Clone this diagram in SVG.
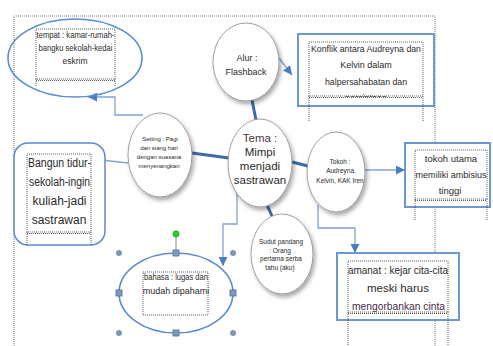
<svg xmlns="http://www.w3.org/2000/svg" width="493" height="346" viewBox="0 0 493 346">
<style>
  .dot{fill:none;stroke:#333;stroke-width:0.8;stroke-dasharray:1,1}
  .pg{fill:none;stroke:#555;stroke-width:0.8;stroke-dasharray:1,1}
  .box{fill:#fff;stroke:#6f97cf;stroke-width:2}
  .oval{fill:none;stroke:#5b8bd0;stroke-width:1.6}
  .circ{fill:#fff;stroke:#8a8a8a;stroke-width:0.8;filter:url(#sh)}
  .thin{fill:none;stroke:#7ea3d6;stroke-width:1.3}
  .thick{fill:none;stroke:#3d6aa8;stroke-width:3}
  text{font-family:"Liberation Sans",Arial,sans-serif;fill:#2a2a2a;text-anchor:middle}
  .hs{fill:#7f9bc0;stroke:#4f6d96;stroke-width:0.8}
  .hr{fill:#7f96b5}
</style>
<defs>
  <filter id="sh" x="-20%" y="-20%" width="150%" height="150%">
    <feDropShadow dx="2" dy="3" stdDeviation="2" flood-color="#000" flood-opacity="0.35"/>
  </filter>
  <marker id="ah" viewBox="0 0 10 10" refX="10" refY="5" markerWidth="9" markerHeight="9" markerUnits="userSpaceOnUse" orient="auto">
    <path d="M0,0 L10,5 L0,10 z" fill="#4a7cc0"/>
  </marker>
  <clipPath id="kc"><rect x="300" y="36" width="132" height="61"/></clipPath>
</defs>
<rect width="493" height="346" fill="#fff"/>

<!-- page border -->
<path class="pg" d="M14,346 V16 H435 V346"/>

<g id="connectors">
  <path class="thin" d="M143,115 H115 V97 H88" marker-end="url(#ah)"/>
  <path class="thin" d="M128,163 L92,159" marker-end="url(#ah)"/>
  <path class="thin" d="M279,58 L292,75" marker-end="url(#ah)"/>
  <path class="thin" d="M365,170 H405" marker-end="url(#ah)"/>
  <path class="thin" d="M318,205 V228 H355 V253" marker-end="url(#ah)"/>
  <path class="thin" d="M237,185 V224 H223 V266" marker-end="url(#ah)"/>
  <path class="thick" d="M192,153 L229,158"/>
  <path class="thick" d="M252,100 L256,120"/>
  <path class="thick" d="M292,162 L308,166"/>
  <path class="thick" d="M267,205 L272,216"/>
</g>

<g id="tempat">
  <ellipse class="oval" cx="75" cy="58" rx="67" ry="39"/>
  <rect class="dot" x="36" y="29" width="79" height="50"/>
  <path class="dot" d="M36,80.5 H115 M36,79 V86 M115,79 V86"/>
  <text font-size="8.5"><tspan x="75.5" y="38" textLength="78" lengthAdjust="spacingAndGlyphs">tempat : kamar-rumah-</tspan><tspan x="75.5" y="51" textLength="74" lengthAdjust="spacingAndGlyphs">bangku sekolah-kedai</tspan><tspan x="75" y="64">eskrim</tspan></text>
</g>

<g id="alur">
  <ellipse class="circ" cx="246" cy="62" rx="33" ry="39"/>
  <text font-size="9"><tspan x="247" y="61">Alur :</tspan><tspan x="246" y="75">Flashback</tspan></text>
</g>

<g id="konflik">
  <rect class="box" x="298" y="34" width="136" height="72"/>
  <rect class="dot" x="309" y="42" width="114" height="54"/>
  <path class="dot" d="M309,97.5 H423 M309,96 V122 M423,96 V122"/>
  <g clip-path="url(#kc)">
    <text font-size="9"><tspan x="366" y="52" textLength="110" lengthAdjust="spacingAndGlyphs">Konflik antara Audreyna dan</tspan><tspan x="366" y="68">Kelvin dalam</tspan><tspan x="366" y="85" textLength="82" lengthAdjust="spacingAndGlyphs">halpersahabatan dan</tspan><tspan x="366" y="100.5">percintaan</tspan></text>
  </g>
</g>

<g id="setting">
  <ellipse class="circ" cx="160" cy="155" rx="32" ry="42"/>
  <text font-size="6"><tspan x="160" y="141">Setting : Pagi</tspan><tspan x="159" y="150">dan siang hari</tspan><tspan x="159" y="159">dengan suasana</tspan><tspan x="159" y="168">menyenangkan</tspan></text>
</g>

<g id="bangun">
  <rect x="14" y="143" width="91" height="102" rx="14" fill="#fff" stroke="#5b8bd0" stroke-width="1.5"/>
  <rect class="dot" x="27" y="154" width="64" height="78"/>
  <path class="dot" d="M27,233.5 H91 M27,232 V245 M91,232 V245"/>
  <text font-size="12"><tspan x="59.5" y="167" textLength="63" lengthAdjust="spacingAndGlyphs">Bangun tidur-</tspan><tspan x="59.5" y="186" textLength="61" lengthAdjust="spacingAndGlyphs">sekolah-ingin</tspan><tspan x="59.5" y="205">kuliah-jadi</tspan><tspan x="59" y="224">sastrawan</tspan></text>
</g>

<g id="tema">
  <ellipse class="circ" cx="260" cy="163" rx="32" ry="44"/>
  <text font-size="11.5"><tspan x="260" y="142" fill="#4a3848">Tema :</tspan><tspan x="260" y="156">Mimpi</tspan><tspan x="260" y="170">menjadi</tspan><tspan x="260" y="184">sastrawan</tspan></text>
</g>

<g id="tokoh">
  <ellipse class="circ" cx="336" cy="172" rx="29" ry="40"/>
  <text font-size="6.5"><tspan x="340" y="164">Tokoh :</tspan><tspan x="341" y="173">Audreyna,</tspan><tspan x="340" y="183">Kelvin, KAK Iren</tspan></text>
</g>

<g id="tokoh-utama">
  <rect class="box" x="405" y="143" width="85" height="64"/>
  <rect class="dot" x="415" y="150" width="72" height="49"/>
  <path class="dot" d="M415,200.5 H487 M415,199 V220 M487,199 V220"/>
  <text font-size="9.5"><tspan x="451" y="161.5">tokoh utama</tspan><tspan x="451" y="177.5" textLength="71" lengthAdjust="spacingAndGlyphs">memiliki ambisius</tspan><tspan x="450" y="193.5">tinggi</tspan></text>
</g>

<g id="sudut">
  <ellipse class="circ" cx="282" cy="254" rx="31" ry="40"/>
  <text font-size="6.5"><tspan x="281" y="244">Sudut pandang</tspan><tspan x="280" y="253">: Orang</tspan><tspan x="281" y="261">pertama serba</tspan><tspan x="280" y="270">tahu (aku)</tspan></text>
</g>

<g id="bahasa">
  <ellipse class="oval" cx="176" cy="293" rx="57" ry="40"/>
  <rect class="dot" x="143" y="272" width="65" height="43"/>
  <text font-size="9"><tspan x="176" y="280" textLength="64" lengthAdjust="spacingAndGlyphs">bahasa : lugas dan</tspan><tspan x="176" y="294">mudah dipahami</tspan></text>
  <line x1="176" y1="234" x2="176" y2="253" stroke="#4f6d96" stroke-width="0.8"/>
  <circle cx="176" cy="234" r="3.2" fill="#2bd12b" stroke="#1a9a1a" stroke-width="0.6"/>
  <rect class="hs" x="173" y="250" width="6" height="6"/>
  <rect class="hs" x="116" y="290" width="6" height="6"/>
  <rect class="hs" x="230" y="290" width="6" height="6"/>
  <rect class="hs" x="173" y="330" width="6" height="6"/>
  <circle class="hr" cx="119" cy="253" r="3"/>
  <circle class="hr" cx="233" cy="253" r="3"/>
  <circle class="hr" cx="119" cy="333" r="3"/>
  <circle class="hr" cx="233" cy="333" r="3"/>
</g>

<g id="amanat">
  <rect class="box" x="337" y="253" width="122" height="67"/>
  <rect class="dot" x="348" y="261" width="100" height="51"/>
  <path class="dot" d="M348,313.5 H448 M348,312 V346 M448,312 V346"/>
  <text font-size="11.5"><tspan x="398" y="274" textLength="100" lengthAdjust="spacingAndGlyphs">amanat : kejar cita-cita</tspan><tspan x="398" y="292">meski harus</tspan><tspan x="398.5" y="310" textLength="93" lengthAdjust="spacingAndGlyphs" fill="#4a2a4a">mengorbankan cinta</tspan></text>
</g>
</svg>
